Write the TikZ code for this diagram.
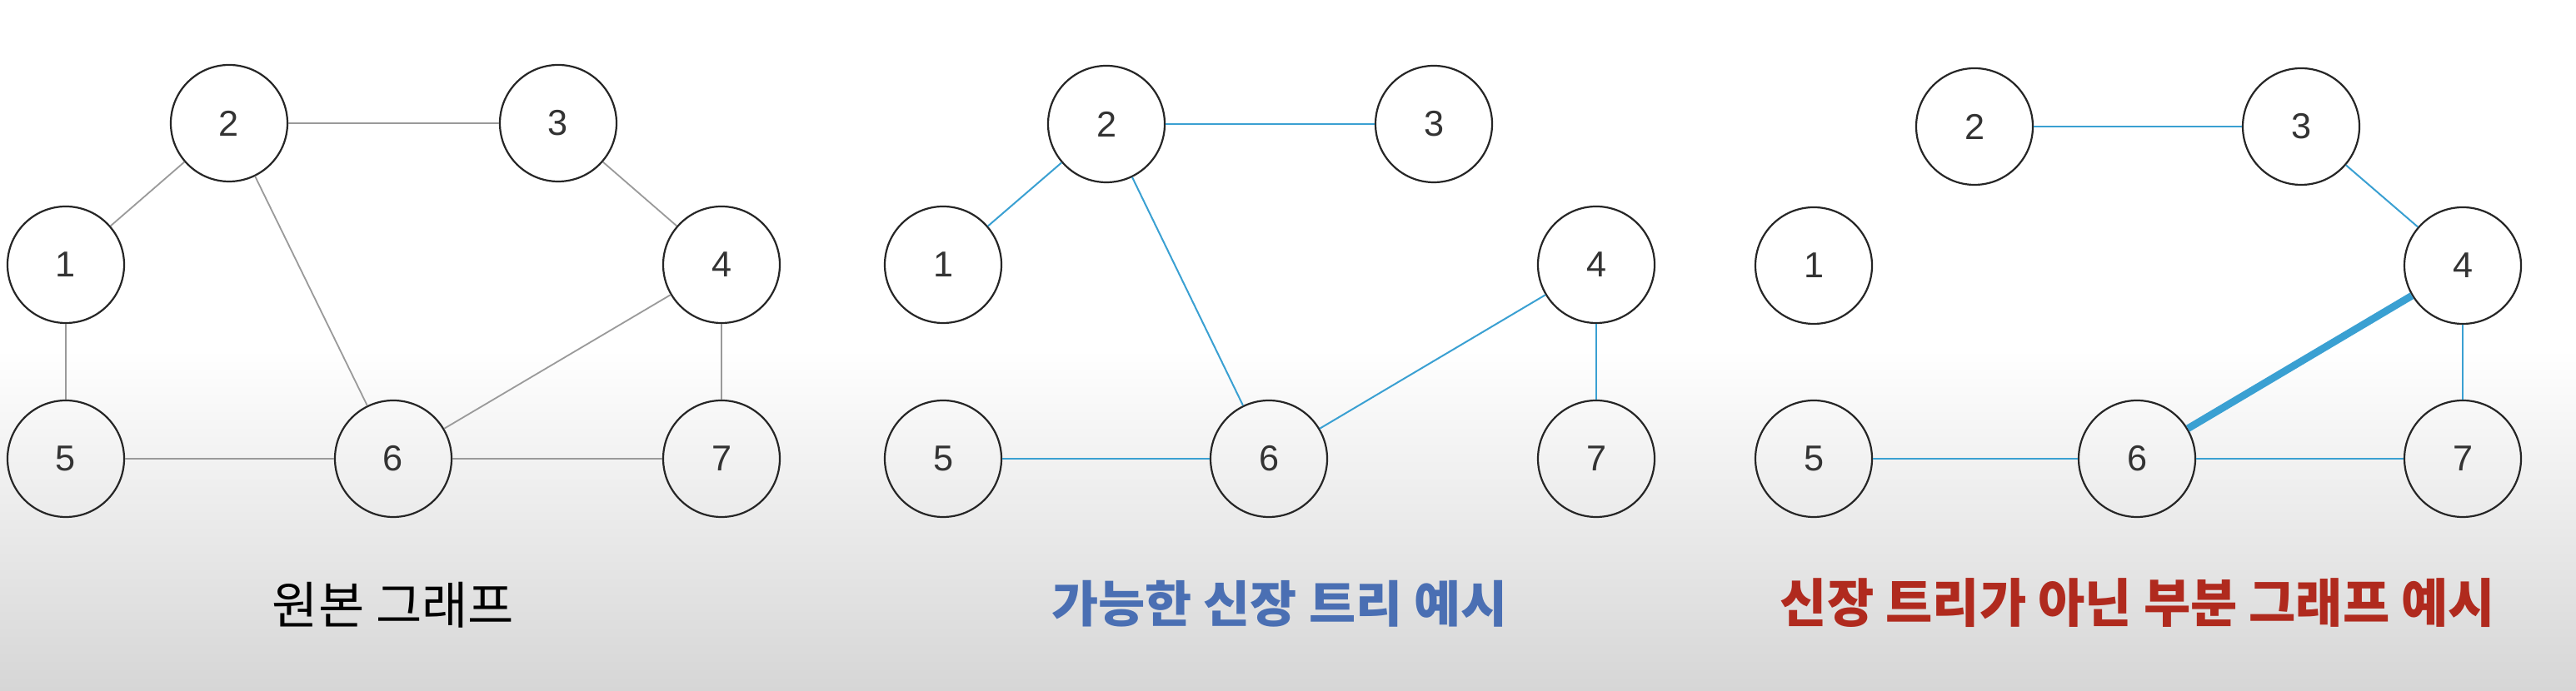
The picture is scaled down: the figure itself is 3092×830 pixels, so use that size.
\documentclass[tikz,border=0pt]{standalone}
\usepackage{fontspec}
\usepackage{graphicx}
\setmainfont{Liberation Sans}
\newfontfamily\krfont{Noto Sans CJK KR}
\definecolor{edgegrey}{HTML}{9A9A9A}
\definecolor{edgeblue}{HTML}{3AA0D2}
\definecolor{ringcol}{HTML}{262626}
\definecolor{digitcol}{HTML}{333333}
\definecolor{labblue}{HTML}{4A6FB3}
\definecolor{labred}{HTML}{B02A1E}
\definecolor{bgbottom}{HTML}{D6D6D6}
\tikzset{
  vert/.style={circle, draw=ringcol, line width=0.55pt, inner sep=0pt,
    minimum size=35pt, font=\fontsize{10.8pt}{12pt}\selectfont, text=digitcol},
  greyedge/.style={draw=edgegrey, line width=0.45pt},
  blueedge/.style={draw=edgeblue, line width=0.5pt},
  thickedge/.style={draw=edgeblue, line width=2.2pt},
  caption/.style={inner sep=0pt, anchor=center}
}
\begin{document}
\begin{tikzpicture}[x=0.25pt, y=-0.25pt]
\useasboundingbox (0,0) rectangle (3092,830);
\fill[white] (0,0) rectangle (3092,420);
\shade[top color=white, bottom color=bgbottom] (0,420) rectangle (3092,830);

% panel 1
\node[vert] (a1) at (79,318) {1};
\node[vert] (a2) at (275,148) {2};
\node[vert] (a3) at (670,148) {3};
\node[vert] (a4) at (866,318) {4};
\node[vert] (a5) at (79,551) {5};
\node[vert] (a6) at (472,551) {6};
\node[vert] (a7) at (866,551) {7};
\draw[greyedge] (a1) -- (a2);
\draw[greyedge] (a2) -- (a3);
\draw[greyedge] (a2) -- (a6);
\draw[greyedge] (a3) -- (a4);
\draw[greyedge] (a4) -- (a6);
\draw[greyedge] (a1) -- (a5);
\draw[greyedge] (a5) -- (a6);
\draw[greyedge] (a6) -- (a7);
\draw[greyedge] (a4) -- (a7);
\node[caption, text=black] (c1) at (472,727)
  {\resizebox*{72.5pt}{13.75pt}{\krfont 원본 그래프}};

% panel 2
\node[vert] (b1) at (1132,318) {1};
\node[vert] (b2) at (1328,149) {2};
\node[vert] (b3) at (1721,149) {3};
\node[vert] (b4) at (1916,318) {4};
\node[vert] (b5) at (1132,551) {5};
\node[vert] (b6) at (1523,551) {6};
\node[vert] (b7) at (1916,551) {7};
\draw[blueedge] (b1) -- (b2);
\draw[blueedge] (b2) -- (b3);
\draw[blueedge] (b2) -- (b6);
\draw[blueedge] (b4) -- (b6);
\draw[blueedge] (b4) -- (b7);
\draw[blueedge] (b5) -- (b6);
\node[caption, text=labblue] (c2) at (1536,725)
  {\resizebox*{136.75pt}{14pt}{\krfont\bfseries 가능한 신장 트리 예시}};

% panel 3
\node[vert] (d1) at (2177,319) {1};
\node[vert] (d2) at (2370,152) {2};
\node[vert] (d3) at (2762,152) {3};
\node[vert] (d4) at (2956,319) {4};
\node[vert] (d5) at (2177,551) {5};
\node[vert] (d6) at (2565,551) {6};
\node[vert] (d7) at (2956,551) {7};
\draw[blueedge] (d2) -- (d3);
\draw[blueedge] (d3) -- (d4);
\draw[thickedge] (d4) -- (d6);
\draw[blueedge] (d4) -- (d7);
\draw[blueedge] (d5) -- (d6);
\draw[blueedge] (d6) -- (d7);
\node[caption, text=labred] (c3) at (2566,724.5)
  {\resizebox*{214.5pt}{14.75pt}{\krfont\bfseries 신장 트리가 아닌 부분 그래프 예시}};
\end{tikzpicture}
\end{document}
